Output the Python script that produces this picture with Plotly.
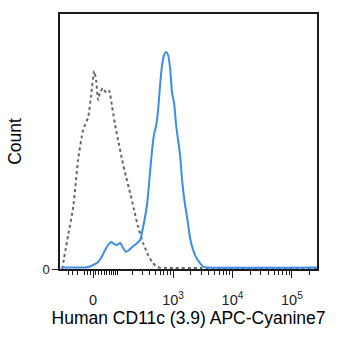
import numpy as np
import plotly.graph_objects as go

# biexponential-like display (arcsinh) cofactor
COF = 90.6

def T(v):
    return np.arcsinh(np.asarray(v, dtype=float) / COF) / np.log(10)

# Isotype control (dotted grey) - fluorescence intensity vs count
iso_x = [-137, -102, -77, -56, -36, -17.6, -7.0, 3.5, 10.5, 17.6, 24.8, 36, 47.5, 59.8,
         72.8, 86.8, 102, 124.4, 149.8, 178.8, 212, 250.5, 307, 360.6, 439.7, 535.5,
         732, 1080, 2847, 264000]
iso_y = [0, 34, 62, 109, 139, 152, 174, 198, 189, 169, 177, 181, 176, 178,
         162, 144, 129, 109, 92, 76, 59, 42, 26, 16, 7, 2,
         1, 1, 1, 1]

# Human CD11c (3.9) APC-Cyanine7 stained (solid blue)
cd_x = [-137, -28.5, -17.6, 0, 17.6, 32.2, 43.6, 55.6, 68.3, 82, 96.8, 112.9, 130.5,
        149.8, 171, 195, 230.7, 271.9, 319.8, 360.6, 406, 439.7, 475.8, 514.8, 557,
        602, 651, 704, 761, 823, 890, 961, 1039, 1124, 1214, 1312, 1417, 1592, 1720,
        1933, 2171, 2534, 3197, 3880, 264000]
cd_y = [1.5, 1.5, 2, 4, 7, 13, 19, 24, 27, 25, 24, 26, 21,
        17, 19, 22, 25, 29, 47, 65, 97, 119, 135, 143, 159,
        184, 204, 214, 217, 214, 201, 176, 166, 144, 129, 114, 89, 64, 52,
        31, 19, 10, 2.5, 1.5, 1.5]

major_vals = [0, 1e3, 1e4, 1e5]
major_text = ["0", "10<sup>3</sup>", "10<sup>4</sup>", "10<sup>5</sup>"]
minor_vals = ([-100, -80, -60, -30, -20, -10] + [10 * i for i in range(1, 10)]
              + [100 * i for i in range(1, 10)] + [1000 * i for i in range(2, 10)]
              + [10000 * i for i in range(2, 10)] + [200000])

x_limits = [-151, 264000]
y_limits = [0, 255]

FONT = "Liberation Sans, Arial, sans-serif"

fig = go.Figure()
fig.add_trace(go.Scatter(x=T(iso_x), y=iso_y, mode="lines",
                         line=dict(color="#666666", width=2, dash="dot", shape="spline", smoothing=0.5),
                         hoverinfo="skip"))
fig.add_trace(go.Scatter(x=T(cd_x), y=cd_y, mode="lines",
                         line=dict(color="#3b8de6", width=2, shape="spline", smoothing=0.5),
                         hoverinfo="skip"))

fig.update_layout(
    width=342, height=345,
    margin=dict(l=60, r=25, t=14, b=76),
    paper_bgcolor="white", plot_bgcolor="white",
    showlegend=False,
    font=dict(family=FONT, color="#111"),
)
fig.update_xaxes(
    range=list(T(x_limits)), showgrid=False, zeroline=False,
    showline=True, linecolor="#1a1a1a", linewidth=1.5, mirror=True,
    tickmode="array", tickvals=list(T(major_vals)), ticktext=major_text,
    ticks="outside", ticklen=7, tickwidth=1.3, tickcolor="#1a1a1a",
    ticklabelstandoff=10,
    tickfont=dict(size=14.5, color="#222"),
    minor=dict(tickmode="array", tickvals=list(T(minor_vals)), ticks="outside",
               ticklen=4, tickwidth=1.2, tickcolor="#1a1a1a"),
    title=dict(text="Human CD11c (3.9) APC-Cyanine7", font=dict(size=17.5, color="#000"), standoff=4),
)
fig.update_yaxes(
    range=y_limits, showgrid=False, zeroline=False,
    showline=True, linecolor="#1a1a1a", linewidth=1.5, mirror=True,
    tickmode="array", tickvals=[0], ticktext=["0"],
    ticks="outside", ticklen=6, tickwidth=1.2, tickcolor="#1a1a1a",
    tickfont=dict(size=13, color="#222"),
    title=dict(text="Count", font=dict(size=17.5, color="#000"), standoff=16),
)

fig.write_html("out.html", config={"displayModeBar": False})
